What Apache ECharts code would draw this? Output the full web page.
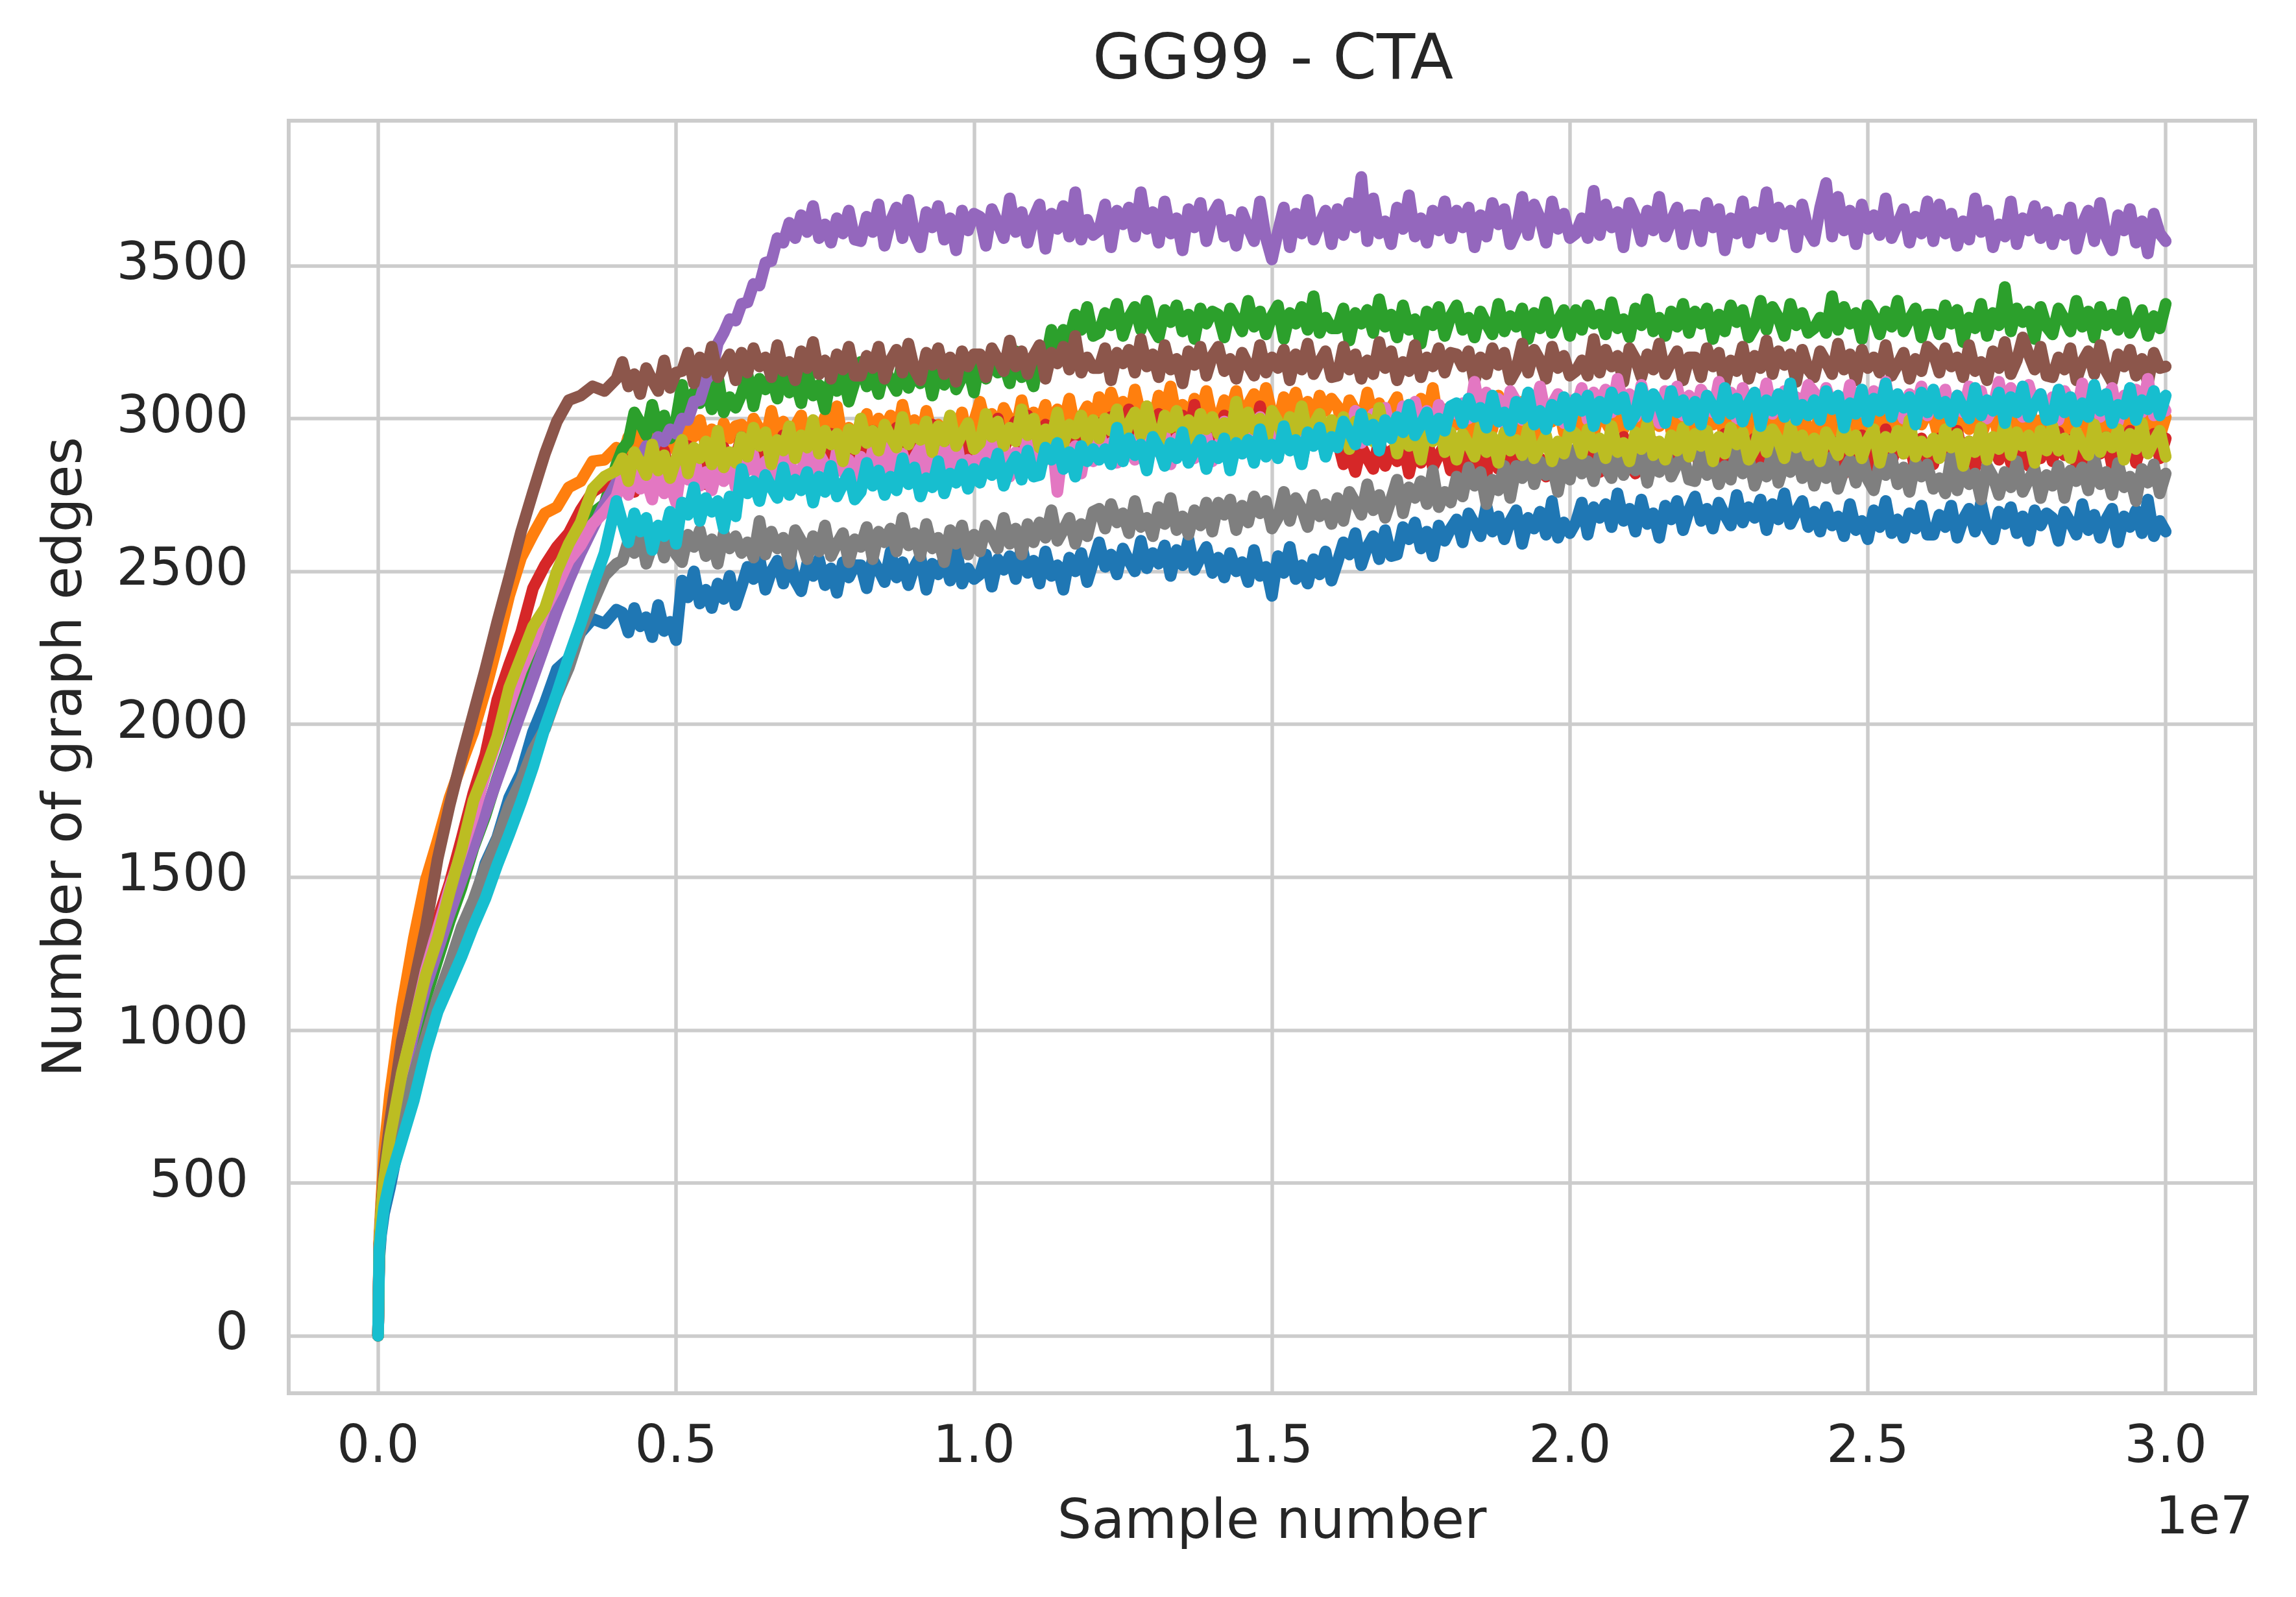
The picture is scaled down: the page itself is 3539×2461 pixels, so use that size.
<!DOCTYPE html>
<html>
<head>
<meta charset="utf-8">
<script src="https://cdn.jsdelivr.net/npm/echarts@6/dist/echarts.min.js"></script>
<style>
html,body{margin:0;padding:0;background:#fff;}
#chart{width:3539px;height:2461px;}
</style>
</head>
<body>
<div id="chart"></div>
<script>
// Sample number in millions (x positions of the readings)
var samplesM = [0,0.02,0.05,0.1,
0.2,0.4,0.6,0.8,1.0,1.2,1.4,1.6,1.8,2.0,2.2,2.4,2.6,2.8,3.0,3.2,3.4,3.6,3.8,4.0,
4.1,4.2,4.3,4.4,4.5,4.6,4.7,4.8,4.9,5.0,5.1,5.2,5.3,5.4,5.5,5.6,5.7,5.8,5.9,6.0,
6.1,6.2,6.3,6.4,6.5,6.6,6.7,6.8,6.9,7.0,7.1,7.2,7.3,7.4,7.5,7.6,7.7,7.8,7.9,8.0,
8.1,8.2,8.3,8.4,8.5,8.6,8.7,8.8,8.9,9.0,9.1,9.2,9.3,9.4,9.5,9.6,9.7,9.8,9.9,10.0,
10.1,10.2,10.3,10.4,10.5,10.6,10.7,10.8,10.9,11.0,11.1,11.2,11.3,11.4,11.5,11.6,11.7,11.8,11.9,12.0,
12.1,12.2,12.3,12.4,12.5,12.6,12.7,12.8,12.9,13.0,13.1,13.2,13.3,13.4,13.5,13.6,13.7,13.8,13.9,14.0,
14.1,14.2,14.3,14.4,14.5,14.6,14.7,14.8,14.9,15.0,15.1,15.2,15.3,15.4,15.5,15.6,15.7,15.8,15.9,16.0,
16.1,16.2,16.3,16.4,16.5,16.6,16.7,16.8,16.9,17.0,17.1,17.2,17.3,17.4,17.5,17.6,17.7,17.8,17.9,18.0,
18.1,18.2,18.3,18.4,18.5,18.6,18.7,18.8,18.9,19.0,19.1,19.2,19.3,19.4,19.5,19.6,19.7,19.8,19.9,20.0,
20.1,20.2,20.3,20.4,20.5,20.6,20.7,20.8,20.9,21.0,21.1,21.2,21.3,21.4,21.5,21.6,21.7,21.8,21.9,22.0,
22.1,22.2,22.3,22.4,22.5,22.6,22.7,22.8,22.9,23.0,23.1,23.2,23.3,23.4,23.5,23.6,23.7,23.8,23.9,24.0,
24.1,24.2,24.3,24.4,24.5,24.6,24.7,24.8,24.9,25.0,25.1,25.2,25.3,25.4,25.5,25.6,25.7,25.8,25.9,26.0,
26.1,26.2,26.3,26.4,26.5,26.6,26.7,26.8,26.9,27.0,27.1,27.2,27.3,27.4,27.5,27.6,27.7,27.8,27.9,28.0,
28.1,28.2,28.3,28.4,28.5,28.6,28.7,28.8,28.9,29.0,29.1,29.2,29.3,29.4,29.5,29.6,29.7,29.8,29.9,30.0];

var run0 = [0,250,330,400,
485,680,840,955,1090,1180,1320,1410,1545,1630,1760,1840,1975,2070,2180,2215,2300,2345,2330,2375,
2365,2300,2380,2320,2350,2285,2390,2305,2335,2275,2470,2415,2500,2395,2440,2380,2460,2410,2485,2390,
2450,2515,2475,2545,2440,2500,2535,2460,2555,2470,2435,2525,2485,2540,2455,2510,2430,2530,2480,2520,
2520,2445,2540,2505,2465,2565,2480,2530,2455,2515,2550,2440,2525,2490,2545,2470,2580,2460,2510,2475,
2490,2555,2450,2540,2505,2550,2475,2585,2495,2535,2460,2565,2485,2520,2440,2545,2500,2560,2465,2530,
2595,2515,2555,2490,2575,2535,2500,2600,2510,2560,2525,2585,2485,2570,2520,2605,2505,2545,2580,2495,
2545,2480,2560,2500,2530,2465,2570,2485,2515,2420,2550,2495,2580,2475,2520,2460,2540,2490,2565,2470,
2530,2595,2555,2625,2520,2580,2615,2540,2635,2550,2555,2645,2605,2660,2575,2630,2550,2650,2600,2640,
2670,2595,2690,2655,2615,2715,2630,2680,2605,2665,2700,2590,2675,2640,2695,2620,2730,2610,2660,2625,
2660,2725,2620,2710,2675,2720,2645,2755,2665,2705,2630,2735,2655,2690,2610,2715,2670,2730,2635,2700,
2745,2665,2705,2640,2725,2685,2650,2750,2660,2710,2675,2735,2635,2720,2670,2755,2655,2695,2730,2645,
2695,2630,2710,2650,2680,2615,2720,2635,2665,2605,2700,2645,2730,2625,2670,2610,2690,2640,2715,2620,
2620,2685,2645,2715,2610,2670,2705,2630,2725,2640,2605,2695,2655,2710,2625,2680,2600,2700,2650,2690,
2675,2600,2695,2660,2620,2720,2635,2685,2610,2670,2705,2595,2680,2645,2700,2625,2735,2615,2665,2630];

var run1 = [0,320,430,600,
790,1075,1300,1490,1620,1760,1870,1975,2110,2260,2420,2545,2620,2690,2710,2775,2795,2860,2865,2905,
2875,2940,2900,2970,2865,2925,2960,2885,2980,2895,2890,2980,2940,2995,2910,2965,2885,2985,2935,2975,
2980,2905,3000,2965,2925,3025,2940,2990,2915,2975,3010,2900,2985,2950,3005,2930,3040,2920,2970,2935,
2950,3015,2910,3000,2965,3010,2935,3045,2955,2995,2920,3025,2945,2980,2900,3005,2960,3020,2925,2990,
3055,2975,3015,2950,3035,2995,2960,3060,2970,3020,2985,3045,2945,3030,2980,3065,2965,3005,3040,2955,
3070,3005,3085,3025,3055,2990,3095,3010,3040,2980,3075,3020,3105,3000,3045,2985,3065,3015,3090,2995,
2995,3060,3020,3090,2985,3045,3080,3005,3100,3015,2980,3070,3030,3085,3000,3055,2975,3075,3025,3065,
3040,2965,3060,3025,2985,3085,3000,3050,2975,3035,3070,2960,3045,3010,3065,2990,3100,2980,3030,2995,
2980,3045,2940,3030,2995,3040,2965,3075,2985,3025,2950,3055,2975,3010,2930,3035,2990,3050,2955,3020,
3050,2970,3010,2945,3030,2990,2955,3055,2965,3015,2980,3040,2940,3025,2975,3060,2960,3000,3035,2950,
3025,2960,3040,2980,3010,2945,3050,2965,2995,2935,3030,2975,3060,2955,3000,2940,3020,2970,3045,2950,
2950,3015,2975,3045,2940,3000,3035,2960,3055,2970,2935,3025,2985,3040,2955,3010,2930,3030,2980,3020,
3005,2930,3025,2990,2950,3050,2965,3015,2940,3000,3035,2925,3010,2975,3030,2955,3065,2945,2995,2960,
2965,3030,2925,3015,2980,3025,2950,3060,2970,3010,2935,3040,2960,2995,2915,3020,2975,3035,2940,3005];

var run2 = [0,280,380,470,
590,790,945,1105,1230,1355,1465,1595,1700,1825,1940,2065,2175,2305,2415,2525,2595,2690,2720,2850,
2900,2925,3020,2985,2945,3045,2960,3010,2935,2995,3110,3000,3085,3050,3105,3030,3140,3020,3070,3035,
3080,3145,3040,3130,3095,3140,3065,3175,3085,3125,3050,3155,3075,3110,3030,3135,3090,3150,3055,3120,
3185,3105,3145,3080,3165,3125,3090,3190,3100,3150,3115,3175,3075,3160,3110,3195,3095,3135,3170,3085,
3195,3130,3210,3150,3180,3115,3220,3135,3165,3105,3220,3185,3290,3215,3290,3260,3340,3290,3365,3270,
3280,3345,3305,3375,3270,3330,3365,3290,3385,3300,3265,3355,3315,3370,3285,3340,3260,3360,3310,3350,
3340,3265,3360,3325,3285,3385,3300,3350,3275,3335,3370,3260,3345,3310,3365,3290,3400,3280,3330,3295,
3295,3360,3255,3345,3310,3355,3280,3390,3300,3340,3265,3370,3290,3325,3245,3350,3305,3365,3270,3335,
3370,3290,3330,3265,3350,3310,3275,3375,3285,3335,3300,3360,3260,3345,3295,3380,3280,3320,3355,3270,
3355,3290,3370,3310,3340,3275,3380,3295,3325,3265,3360,3305,3390,3285,3330,3270,3350,3300,3375,3280,
3350,3310,3360,3260,3340,3285,3370,3315,3355,3265,3300,3385,3290,3365,3330,3270,3375,3305,3345,3280,
3295,3330,3280,3400,3290,3365,3310,3345,3260,3370,3335,3275,3350,3300,3385,3285,3325,3360,3265,3340,
3340,3275,3370,3310,3355,3250,3330,3295,3375,3270,3345,3305,3430,3285,3360,3315,3350,3260,3365,3300,
3275,3360,3325,3285,3385,3300,3350,3265,3365,3305,3340,3290,3380,3280,3315,3355,3270,3335,3295,3375];

var run3 = [0,300,400,520,
660,880,1060,1215,1360,1480,1625,1775,1900,2080,2195,2300,2445,2520,2580,2625,2700,2760,2785,2800,
2800,2865,2760,2850,2815,2860,2785,2895,2805,2845,2805,2910,2830,2865,2785,2890,2845,2905,2810,2875,
2940,2860,2900,2835,2920,2880,2845,2945,2855,2905,2870,2930,2830,2915,2865,2950,2850,2890,2925,2840,
2945,2880,2960,2900,2930,2865,2970,2885,2915,2855,2950,2895,2980,2875,2920,2860,2940,2890,2965,2870,
2905,2970,2930,3000,2895,2955,2990,2915,3010,2925,2890,2980,2940,2995,2910,2965,2885,2985,2935,2975,
2985,2910,3005,2970,2930,3030,2945,2995,2920,2980,3015,2905,2990,2955,3010,2935,3045,2925,2975,2940,
2945,3010,2905,2995,2960,3005,2930,3040,2950,2990,2875,2980,2900,2935,2855,2960,2915,2975,2880,2945,
2930,2850,2890,2825,2910,2870,2835,2935,2845,2895,2860,2920,2820,2905,2855,2940,2840,2880,2915,2830,
2895,2830,2910,2850,2880,2815,2920,2835,2865,2805,2900,2845,2930,2825,2870,2810,2890,2840,2915,2820,
2835,2900,2860,2930,2825,2885,2920,2845,2940,2855,2820,2910,2870,2925,2840,2895,2815,2915,2865,2905,
2905,2830,2925,2890,2850,2950,2865,2915,2840,2900,2935,2825,2910,2875,2930,2855,2965,2845,2895,2860,
2910,2845,2940,2880,2925,2820,2900,2865,2945,2840,2915,2875,2965,2855,2930,2885,2920,2830,2935,2870,
2850,2935,2900,2860,2960,2875,2925,2840,2940,2880,2915,2865,2955,2855,2890,2930,2845,2910,2870,2950,
2860,2955,2880,2930,2850,2910,2865,2970,2885,2940,2845,2905,2875,2960,2855,2920,2890,2950,2870,2935];

var run4 = [0,290,390,490,
620,820,990,1140,1260,1380,1490,1600,1710,1820,1930,2040,2150,2260,2370,2470,2560,2640,2720,2790,
2830,2825,2875,2870,2910,2895,2940,2925,2965,2950,3000,2995,3055,3060,3125,3150,3245,3280,3325,3320,
3375,3380,3440,3435,3510,3515,3590,3575,3640,3590,3665,3610,3695,3590,3635,3575,3655,3605,3680,3585,
3580,3660,3610,3700,3565,3645,3690,3590,3715,3605,3560,3675,3625,3695,3585,3655,3550,3680,3615,3670,
3660,3565,3685,3640,3590,3720,3610,3675,3575,3655,3700,3555,3670,3620,3695,3595,3740,3585,3650,3600,
3615,3700,3560,3680,3635,3690,3595,3740,3620,3675,3575,3710,3605,3655,3550,3685,3625,3705,3580,3665,
3700,3595,3650,3565,3675,3625,3580,3710,3590,3520,3610,3690,3560,3670,3605,3715,3585,3635,3680,3570,
3685,3600,3705,3625,3790,3580,3720,3605,3645,3570,3690,3620,3730,3595,3655,3575,3680,3615,3710,3590,
3680,3625,3690,3560,3665,3595,3705,3635,3685,3570,3615,3725,3600,3700,3655,3575,3710,3620,3670,3590,
3605,3655,3590,3745,3600,3700,3625,3675,3560,3705,3660,3580,3680,3615,3725,3595,3645,3690,3570,3665,
3665,3580,3705,3625,3685,3550,3655,3605,3710,3575,3675,3620,3740,3595,3690,3635,3680,3560,3700,3615,
3580,3690,3770,3595,3725,3615,3680,3570,3700,3620,3665,3600,3720,3590,3635,3685,3575,3660,3605,3710,
3580,3700,3605,3670,3565,3645,3585,3720,3610,3680,3560,3635,3595,3710,3570,3655,3615,3695,3590,3675,
3570,3650,3600,3690,3555,3635,3680,3580,3705,3595,3550,3665,3615,3685,3575,3645,3540,3670,3605,3580];

var run5 = [0,300,400,540,
700,965,1150,1335,1560,1735,1890,2035,2180,2335,2480,2630,2760,2885,2990,3060,3075,3105,3090,3130,
3185,3105,3145,3080,3165,3125,3090,3190,3100,3150,3155,3215,3115,3200,3150,3235,3135,3175,3210,3125,
3215,3150,3230,3170,3200,3135,3240,3155,3185,3125,3220,3165,3250,3145,3190,3130,3210,3160,3235,3140,
3140,3205,3165,3235,3130,3190,3225,3150,3245,3160,3125,3215,3175,3230,3145,3200,3120,3220,3170,3210,
3210,3135,3230,3195,3155,3255,3170,3220,3145,3205,3240,3130,3215,3180,3235,3160,3270,3150,3200,3165,
3165,3230,3125,3215,3180,3225,3150,3260,3170,3210,3135,3240,3160,3195,3115,3220,3175,3235,3140,3205,
3235,3155,3195,3130,3215,3175,3140,3240,3150,3200,3165,3225,3125,3210,3160,3245,3145,3185,3220,3135,
3140,3235,3160,3210,3130,3190,3145,3250,3165,3220,3125,3185,3155,3240,3135,3200,3170,3230,3150,3215,
3210,3170,3220,3120,3200,3145,3230,3175,3215,3125,3160,3245,3150,3225,3190,3130,3235,3165,3205,3140,
3155,3190,3140,3260,3150,3225,3170,3205,3120,3230,3195,3135,3210,3160,3245,3145,3185,3220,3125,3200,
3200,3135,3230,3170,3215,3110,3190,3155,3235,3130,3205,3165,3255,3145,3220,3175,3210,3120,3225,3160,
3135,3220,3185,3145,3245,3160,3210,3125,3225,3165,3200,3150,3240,3140,3175,3215,3130,3195,3155,3235,
3215,3150,3230,3170,3200,3135,3240,3155,3185,3125,3220,3165,3250,3145,3190,3265,3210,3160,3235,3140,
3135,3200,3160,3230,3125,3185,3220,3145,3240,3155,3120,3210,3170,3225,3140,3195,3115,3215,3165,3170];

var run6 = [0,290,390,500,
640,855,1020,1195,1330,1465,1580,1700,1835,1950,2060,2175,2265,2375,2450,2535,2585,2655,2695,2745,
2815,2750,2830,2770,2800,2735,2840,2755,2785,2725,2855,2800,2885,2780,2825,2765,2845,2795,2870,2775,
2870,2830,2880,2780,2860,2805,2890,2835,2875,2785,2820,2905,2810,2885,2850,2790,2895,2825,2865,2800,
2875,2800,2895,2860,2820,2920,2835,2885,2810,2870,2905,2795,2880,2845,2900,2825,2935,2815,2865,2830,
2900,2835,2930,2870,2915,2810,2890,2855,2935,2830,2905,2865,2955,2760,2920,2875,2910,2820,2925,2860,
2960,2880,2920,2855,2940,2900,2865,2965,2875,2925,2890,2950,2850,2935,2885,2970,2870,2910,2945,2860,
2895,2990,2915,2965,2885,2945,2900,3005,2920,2975,2880,2940,2910,2995,2890,2955,2925,2985,2905,2970,
2930,2995,2955,3025,2920,2980,3015,2940,3035,2950,2950,3040,3000,3055,2970,3025,2945,3045,2995,3035,
3015,3050,3000,3120,3010,3085,3030,3065,2980,3090,3055,2995,3070,3020,3105,3005,3045,3080,2985,3060,
3035,3100,2995,3085,3050,3095,3020,3130,3040,3080,3005,3110,3030,3065,2985,3090,3045,3105,3010,3075,
3010,3095,3060,3020,3120,3035,3085,3000,3100,3040,3075,3025,3115,3015,3050,3090,3005,3070,3030,3110,
3085,3020,3100,3040,3070,3005,3110,3025,3055,2995,3090,3035,3120,3015,3060,3000,3080,3030,3105,3010,
3085,3045,3095,2995,3075,3020,3105,3050,3090,3000,3035,3120,3025,3100,3065,3005,3110,3040,3080,3015,
3070,2995,3090,3055,3015,3115,3030,3080,3005,3065,3100,2990,3075,3040,3095,3020,3130,3010,3060,3025];

var run7 = [0,270,350,430,
540,710,855,975,1105,1215,1335,1425,1535,1625,1735,1815,1915,1985,2095,2185,2305,2395,2485,2525,
2535,2600,2560,2630,2525,2585,2620,2545,2640,2555,2530,2620,2580,2635,2550,2605,2525,2625,2575,2615,
2560,2595,2545,2665,2555,2630,2575,2610,2525,2635,2600,2540,2615,2565,2650,2550,2590,2625,2530,2605,
2580,2645,2540,2630,2595,2640,2565,2675,2585,2625,2550,2655,2575,2610,2530,2635,2590,2650,2555,2620,
2565,2650,2615,2575,2675,2590,2640,2555,2655,2595,2660,2610,2700,2600,2635,2675,2590,2655,2615,2695,
2705,2640,2720,2660,2690,2625,2730,2645,2675,2615,2710,2655,2740,2635,2680,2620,2700,2650,2725,2630,
2725,2685,2735,2635,2715,2660,2745,2690,2730,2640,2675,2760,2665,2740,2705,2645,2750,2680,2720,2655,
2740,2665,2760,2725,2685,2785,2700,2750,2675,2735,2800,2690,2775,2740,2795,2720,2830,2710,2760,2725,
2810,2745,2840,2780,2825,2720,2800,2765,2845,2740,2845,2805,2895,2785,2860,2815,2850,2760,2865,2800,
2900,2820,2860,2795,2880,2840,2805,2905,2815,2865,2830,2890,2790,2875,2825,2910,2810,2850,2885,2800,
2795,2890,2815,2865,2785,2845,2800,2905,2820,2875,2780,2840,2810,2895,2790,2855,2825,2885,2805,2870,
2780,2845,2805,2875,2770,2830,2865,2790,2885,2800,2765,2855,2815,2870,2785,2840,2760,2860,2810,2850,
2770,2805,2755,2875,2765,2840,2785,2820,2735,2845,2810,2750,2825,2775,2860,2760,2800,2835,2740,2815,
2780,2845,2740,2830,2795,2840,2765,2875,2785,2825,2750,2855,2775,2810,2730,2835,2790,2850,2755,2820];

var run8 = [0,290,400,510,
650,860,1020,1180,1300,1450,1590,1750,1850,1960,2120,2220,2320,2380,2500,2590,2660,2770,2810,2830,
2870,2795,2890,2855,2815,2915,2830,2880,2805,2865,2930,2820,2905,2870,2925,2850,2960,2840,2890,2855,
2940,2875,2970,2910,2955,2850,2930,2895,2975,2870,2945,2905,2995,2885,2960,2915,2950,2860,2965,2900,
3000,2920,2960,2895,2980,2940,2905,3005,2915,2965,2930,2990,2890,2975,2925,3010,2910,2950,2985,2900,
2920,3015,2940,2990,2910,2970,2925,3030,2945,3000,2905,2965,2935,3020,2915,2980,2950,3010,2930,2995,
2935,3000,2960,3030,2925,2985,3020,2945,3040,2955,2920,3010,2970,3025,2940,2995,2915,3015,2965,3005,
2950,2985,2935,3055,2945,3020,2965,3000,2915,3025,2990,2930,3005,2955,3040,2940,2980,3015,2920,2995,
2940,3005,2900,2990,2955,3000,2925,3035,2945,2985,2885,2990,2910,2945,2865,2970,2925,2985,2890,2955,
2865,2950,2915,2875,2975,2890,2940,2855,2955,2895,2930,2880,2970,2870,2905,2945,2860,2925,2885,2965,
2950,2885,2965,2905,2935,2870,2975,2890,2920,2860,2955,2900,2985,2880,2925,2865,2945,2895,2970,2875,
2950,2910,2960,2860,2940,2885,2970,2915,2955,2865,2900,2985,2890,2965,2930,2870,2975,2905,2945,2880,
2935,2860,2955,2920,2880,2980,2895,2945,2870,2930,2965,2855,2940,2905,2960,2885,2995,2875,2925,2890,
2935,2870,2965,2905,2950,2845,2925,2890,2970,2865,2940,2900,2990,2880,2955,2910,2945,2855,2960,2895,
2975,2895,2935,2870,2955,2915,2880,2980,2890,2940,2905,2965,2865,2950,2900,2985,2885,2925,2960,2875];

var run9 = [0,280,340,420,
510,640,770,930,1060,1150,1240,1340,1430,1540,1640,1745,1860,1990,2100,2220,2330,2450,2560,2730,
2660,2595,2690,2630,2675,2570,2650,2615,2695,2590,2725,2685,2775,2665,2740,2695,2730,2640,2745,2680,
2835,2755,2795,2730,2815,2775,2740,2840,2750,2800,2765,2825,2725,2810,2760,2845,2745,2785,2820,2735,
2760,2855,2780,2830,2750,2810,2765,2870,2785,2840,2745,2805,2775,2860,2755,2820,2790,2850,2770,2835,
2790,2855,2815,2885,2780,2840,2875,2800,2895,2810,2815,2905,2865,2920,2835,2890,2810,2910,2860,2900,
2865,2900,2850,2970,2860,2935,2880,2915,2830,2940,2905,2845,2920,2870,2955,2855,2895,2930,2835,2910,
2870,2935,2830,2920,2885,2930,2855,2965,2875,2915,2870,2975,2895,2930,2850,2955,2910,2970,2875,2940,
2905,2990,2955,2915,3015,2930,2980,2895,2995,2935,3005,2955,3045,2945,2980,3020,2935,3000,2960,3040,
3050,2985,3065,3005,3035,2970,3075,2990,3020,2960,3055,3000,3085,2980,3025,2965,3045,2995,3070,2975,
3065,3025,3075,2975,3055,3000,3085,3030,3070,2980,3015,3100,3005,3080,3045,2985,3090,3020,3060,2995,
3055,2980,3075,3040,3000,3100,3015,3065,2990,3050,3085,2975,3060,3025,3080,3005,3115,2995,3045,3010,
3060,2995,3090,3030,3075,2970,3050,3015,3095,2990,3065,3025,3115,3005,3080,3035,3070,2980,3085,3020,
3095,3015,3055,2990,3075,3035,3000,3100,3010,3060,3025,3085,2985,3070,3020,3105,3005,3045,3080,2995,
3000,3095,3020,3070,2990,3050,3005,3110,3025,3080,2985,3045,3015,3100,2995,3060,3030,3090,3010,3075];

var runs = [run0, run1, run2, run3, run4, run5, run6, run7, run8, run9];
var colors = ['#1f77b4','#ff7f0e','#2ca02c','#d62728','#9467bd','#8c564b','#e377c2','#7f7f7f','#bcbd22','#17becf'];
var xTicks = [0, 5e6, 10e6, 15e6, 20e6, 25e6, 30e6];
var yTicks = [0, 500, 1000, 1500, 2000, 2500, 3000, 3500];

var FONT = 'DejaVu Sans';
var TXT = '#262626';
var GRIDC = '#cccccc';

var chart = echarts.init(document.getElementById('chart'), null, {renderer: 'canvas'});

var series = runs.map(function (vals, s) {
  var n = Math.min(vals.length, samplesM.length);
  var data = [];
  for (var i = 0; i < n; i++) { data.push([samplesM[i] * 1e6, vals[i]]); }
  return {
    type: 'line',
    name: 'run ' + s,
    data: data,
    showSymbol: false,
    symbol: 'none',
    smooth: false,
    lineStyle: { width: 18, color: colors[s], cap: 'round', join: 'round' },
    itemStyle: { color: colors[s] },
    emphasis: { disabled: true },
    z: 2
  };
});

var option = {
  backgroundColor: '#ffffff',
  animation: false,
  grid: {
    left: 445, right: 63, top: 186, bottom: 314,
    show: true, borderColor: GRIDC, borderWidth: 6, backgroundColor: 'transparent',
    containLabel: false
  },
  xAxis: {
    type: 'value',
    min: -1.5e6, max: 31.5e6,
    name: 'Sample number',
    nameLocation: 'middle',
    nameGap: 160,
    nameTextStyle: { fontFamily: FONT, fontSize: 83, color: TXT },
    axisLine: { show: false },
    axisTick: { show: false, customValues: xTicks },
    axisLabel: {
      customValues: xTicks,
      fontFamily: FONT, fontSize: 80, color: TXT, margin: 45,
      formatter: function (v) { return (v / 1e7).toFixed(1); }
    },
    splitLine: { show: true, lineStyle: { color: GRIDC, width: 5.5 } }
  },
  yAxis: {
    type: 'value',
    min: -188, max: 3974,
    name: 'Number of graph edges',
    nameLocation: 'middle',
    nameGap: 300,
    nameTextStyle: { fontFamily: FONT, fontSize: 83, color: TXT },
    axisLine: { show: false },
    axisTick: { show: false, customValues: yTicks },
    axisLabel: {
      customValues: yTicks,
      fontFamily: FONT, fontSize: 80, color: TXT, margin: 62,
      formatter: function (v) { return String(v); }
    },
    splitLine: { show: true, lineStyle: { color: GRIDC, width: 5.5 } }
  },
  graphic: [
    {
      type: 'text', x: 1962, y: 47, z: 10,
      style: { text: 'GG99 - CTA', font: '97px "DejaVu Sans"', fill: TXT,
               textAlign: 'center', align: 'center', textVerticalAlign: 'top', verticalAlign: 'top' }
    },
    {
      type: 'text', x: 3473, y: 2302, z: 10,
      style: { text: '1e7', font: '80px "DejaVu Sans"', fill: TXT,
               textAlign: 'right', align: 'right', textVerticalAlign: 'top', verticalAlign: 'top' }
    }
  ],
  series: series
};

chart.setOption(option);
</script>
</body>
</html>
